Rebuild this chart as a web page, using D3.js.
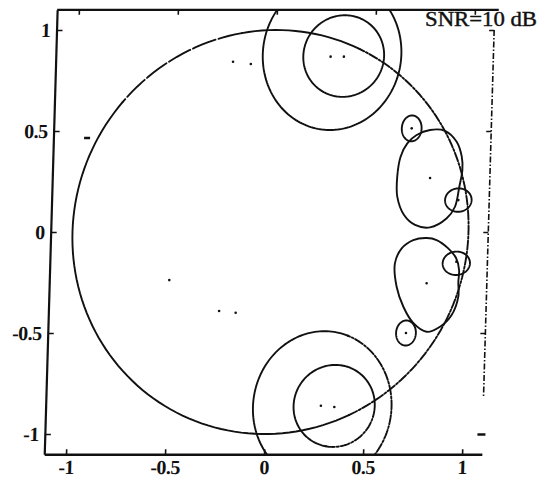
<!DOCTYPE html>
<html>
<head>
<meta charset="utf-8">
<script src="https://cdn.jsdelivr.net/npm/d3@7"></script>
<style>
  body { margin: 0; background: #fff; }
  svg { display: block; }
</style>
</head>
<body>
<svg id="chart" width="539" height="481"></svg>
<script>
// ---- data (z-plane, real / imaginary parts) ----
const xTickValues = [-1, -0.5, 0, 0.5, 1];
const xTickLabels = ["-1", "-0.5", "0", "0.5", "1"];
const yTickValues = [-1, -0.5, 0, 0.5, 1];
const yTickLabels = ["-1", "-0.5", "0", "0.5", "1"];
const snrLabel = "SNR=10 dB";

// unit circle
const unitCircle = { cx: 0, cy: 0, rx: 1, ry: 1 };
// large confidence regions around the pole pairs near +-j
const outerRings = [
  { cx: 0.285, cy: 0.88, rx: 0.35, ry: 0.375 },
  { cx: 0.287, cy: -0.866, rx: 0.35, ry: 0.375 }
];
const innerRings = [
  { cx: 0.344, cy: 0.871, rx: 0.204, ry: 0.202 },
  { cx: 0.347, cy: -0.861, rx: 0.205, ry: 0.203 }
];
// small regions near the right side
const smallOvals = [
  { cx: 0.698, cy: 0.513, rx: 0.05, ry: 0.064 },
  { cx: 0.699, cy: -0.5, rx: 0.05, ry: 0.062 },
  { cx: 0.944, cy: 0.158, rx: 0.067, ry: 0.058 },
  { cx: 0.943, cy: -0.155, rx: 0.069, ry: 0.058 }
];
// irregular regions around the poles near 0.8 +- 0.26j
const upperLobe = [
  [0.724, 0.480], [0.791, 0.505], [0.866, 0.501], [0.927, 0.447],
  [0.955, 0.373], [0.960, 0.307], [0.947, 0.224], [0.928, 0.125],
  [0.888, 0.068], [0.805, 0.023], [0.729, 0.035], [0.672, 0.084],
  [0.635, 0.175], [0.632, 0.274], [0.646, 0.373], [0.678, 0.439]
];
const lowerLobe = [
  [0.722, -0.040], [0.791, -0.030], [0.840, -0.040], [0.900, -0.081],
  [0.941, -0.129], [0.958, -0.188], [0.956, -0.248], [0.958, -0.320],
  [0.927, -0.411], [0.870, -0.469], [0.803, -0.494], [0.734, -0.450],
  [0.682, -0.370], [0.645, -0.271], [0.633, -0.155], [0.665, -0.081]
];
// estimated poles
const poles = [
  [0.278, 0.868], [0.345, 0.868], [-0.214, 0.843], [-0.124, 0.832],
  [0.698, 0.513], [0.798, 0.267], [0.944, 0.158],
  [0.28, -0.86], [0.348, -0.866], [-0.504, -0.238], [-0.248, -0.391],
  [-0.164, -0.40], [0.699, -0.5], [0.796, -0.254], [0.943, -0.147]
];
const strayMarks = [[-0.94, 0.465]];

// ---- layout ----
const svg = d3.select("#chart");
const x = d3.scaleLinear().domain([-1.11, 1.1]).range([50.7, 488.3]);
const y = d3.scaleLinear().domain([-1.1, 1.1]).range([454.2, 9.8]);
const yMid = y(0);

// the whole plot is slightly slanted
const plot = svg.append("g")
  .attr("transform", `translate(0,${yMid}) skewX(-1.66) translate(0,${-yMid})`);

plot.append("clipPath").attr("id", "plotClip")
  .append("rect")
  .attr("x", x(-1.11)).attr("y", y(1.1))
  .attr("width", x(1.1) - x(-1.11)).attr("height", y(-1.1) - y(1.1));

const ink = "#111";
const line = d3.line().x(d => x(d[0])).y(d => y(d[1]));
const closedLine = d3.line().x(d => x(d[0])).y(d => y(d[1])).curve(d3.curveCatmullRomClosed.alpha(0.5));

function arcPoints(e, a0, a1) {
  const n = Math.max(12, Math.ceil(Math.abs(a1 - a0) / 2));
  return d3.range(n + 1).map(i => {
    const a = (a0 + (a1 - a0) * i / n) * Math.PI / 180;
    return [e.cx + e.rx * Math.cos(a), e.cy + e.ry * Math.sin(a)];
  });
}

const curves = plot.append("g").attr("clip-path", "url(#plotClip)")
  .attr("fill", "none").attr("stroke", ink).attr("stroke-width", 1.9)
  .attr("stroke-linecap", "round");

function drawArc(e, a0, a1, dash) {
  curves.append("path")
    .attr("d", line(arcPoints(e, a0, a1)))
    .attr("stroke-dasharray", dash || null);
}

// unit circle: solid on the left, broken on the right
drawArc(unitCircle, 65, 100);
drawArc(unitCircle, 100, 140, "24,3");
drawArc(unitCircle, 140, 295);
drawArc(unitCircle, -65, 65, "9,2,2,2");

// rings around the upper / lower pole pairs
drawArc(outerRings[0], 0, 360);
drawArc(outerRings[1], 70, 300);
drawArc(outerRings[1], -60, 70, "9,2,2,2");
drawArc(innerRings[0], 0, 360);
drawArc(innerRings[1], -15, 260);
drawArc(innerRings[1], -100, -15, "9,2,2,2");
smallOvals.forEach(e => drawArc(e, 0, 360));

[upperLobe, lowerLobe].forEach(pts => {
  curves.append("path").attr("d", closedLine(pts));
});

// pole estimates
plot.append("g").selectAll("circle").data(poles).join("circle")
  .attr("cx", d => x(d[0])).attr("cy", d => y(d[1]))
  .attr("r", 1.3).attr("fill", ink);

plot.append("g").selectAll("line").data(strayMarks).join("line")
  .attr("x1", d => x(d[0]) - 3).attr("x2", d => x(d[0]) + 3)
  .attr("y1", d => y(d[1])).attr("y2", d => y(d[1]))
  .attr("stroke", ink).attr("stroke-width", 2.6);

// ---- axes ----
const labelFont = "'Liberation Serif', 'Times New Roman', serif";

function styleAxis(g, width) {
  g.selectAll("path.domain").attr("stroke", ink).attr("stroke-width", width);
  g.selectAll(".tick line").attr("stroke", ink).attr("stroke-width", 1.6);
  g.selectAll(".tick text")
    .attr("fill", ink)
    .attr("font-family", labelFont)
    .attr("font-weight", "bold")
    .attr("font-size", 20)
    .attr("letter-spacing", -0.5);
}

const bottomAxis = plot.append("g")
  .attr("transform", `translate(0,${y(-1.1)})`)
  .call(d3.axisBottom(x).tickValues(xTickValues)
    .tickFormat((d, i) => xTickLabels[i])
    .tickSizeInner(-5).tickSizeOuter(0).tickPadding(6));
styleAxis(bottomAxis, 2.6);

const leftAxis = plot.append("g")
  .attr("transform", `translate(${x(-1.11)},0)`)
  .call(d3.axisLeft(y).tickValues(yTickValues)
    .tickFormat((d, i) => yTickLabels[i])
    .tickSizeInner(-6).tickSizeOuter(0).tickPadding(6));
styleAxis(leftAxis, 2.2);

const topAxis = plot.append("g")
  .attr("transform", `translate(0,${y(1.1)})`)
  .call(d3.axisTop(x).tickValues(xTickValues)
    .tickFormat("").tickSizeInner(-5).tickSizeOuter(0));
styleAxis(topAxis, 2.2);
topAxis.select("path.domain").attr("d", `M${x(-1.11)},0H${x(1.1) + 4}`);

// right edge: broken line with inward ticks
const rightAxis = plot.append("g")
  .attr("transform", `translate(${x(1.1)},0)`)
  .call(d3.axisRight(y).tickValues(yTickValues)
    .tickFormat("").tickSizeInner(-5).tickSizeOuter(0));
styleAxis(rightAxis, 1.6);
rightAxis.select("path.domain")
  .attr("d", `M0,${y(1)}V${y(-0.82)}`)
  .attr("stroke-dasharray", "6,2,1.5,2");
rightAxis.selectAll(".tick line")
  .filter(d => d === -1)
  .attr("x1", 3).attr("stroke-width", 2.6);

// ---- annotation ----
svg.append("text")
  .attr("x", 425).attr("y", 26)
  .attr("font-family", labelFont)
  .attr("font-size", 20)
  .attr("fill", ink)
  .attr("stroke", ink).attr("stroke-width", 0.4)
  .attr("textLength", 112)
  .attr("lengthAdjust", "spacingAndGlyphs")
  .text(snrLabel);
</script>
</body>
</html>
